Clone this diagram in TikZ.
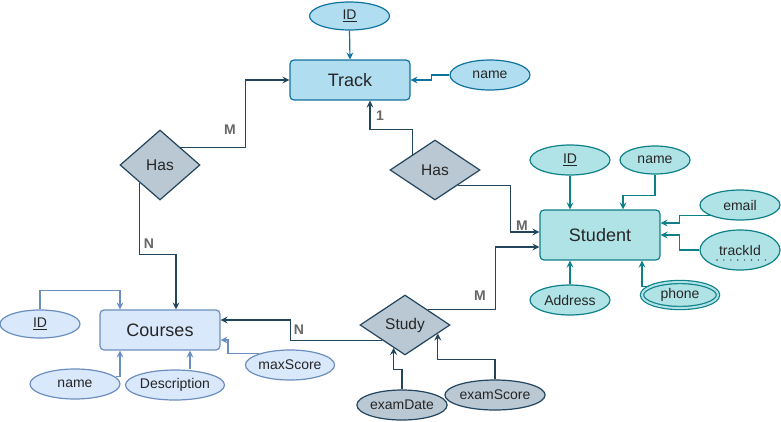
\documentclass[tikz,border=0pt]{standalone}
\usepackage{fontspec}
\setmainfont{Liberation Sans}
\usetikzlibrary{shapes.geometric,arrows.meta,calc}

\definecolor{trackfill}{HTML}{B1DDF0}
\definecolor{trackline}{HTML}{10739E}
\definecolor{stufill}{HTML}{B0E3E6}
\definecolor{stuline}{HTML}{0E8088}
\definecolor{crsfill}{HTML}{DAE8FC}
\definecolor{crsline}{HTML}{6C8EBF}
\definecolor{relfill}{HTML}{BAC8D3}
\definecolor{relline}{HTML}{23445D}
\definecolor{cardtext}{HTML}{666666}

\begin{document}
\begin{tikzpicture}[x=1pt,y=-1pt]
\def\lw{1.2pt}; %line width of shapes and connectors
\def\entW{120pt}; %width of an entity box
\def\entH{40pt}; %height of an entity box
\def\attW{80pt}; %width of an attribute
\def\attH{30pt}; %height of an attribute

\tikzstyle{entity} = [rectangle, rounded corners=4pt, line width=\lw, minimum width=\entW, minimum height=\entH, text=black!85, font=\fontsize{18}{21}\selectfont]
\tikzstyle{attr} = [ellipse, line width=\lw, inner sep=0pt, minimum width=\attW, minimum height=\attH, text=black!85, font=\fontsize{14}{17}\selectfont]
\tikzstyle{rel} = [diamond, draw=relline, fill=relfill, line width=\lw, inner sep=0pt, text=black!85, font=\fontsize{15.5}{18}\selectfont]
\tikzstyle{card} = [text=cardtext, inner sep=0pt, font=\bfseries\fontsize{14}{17}\selectfont]
\tikzstyle{link} = [line width=\lw, -{Stealth[length=7pt,width=7pt,inset=2.5pt]}]

\useasboundingbox (0,0) rectangle (781,421);

% entities
\node[entity, draw=trackline, fill=trackfill] (track) at (350,80) {Track};
\node[entity, draw=stuline, fill=stufill, minimum height=50pt] (student) at (600,235) {Student};
\node[entity, draw=crsline, fill=crsfill] (courses) at (160,330) {Courses};

% relations
\node[rel, minimum width=80pt, minimum height=70pt] (has1) at (160,165) {Has};
\node[rel, minimum width=90pt, minimum height=60pt] (has2) at (435,170) {Has};
\node[rel, minimum width=90pt, minimum height=60pt] (study) at (405,325) {Study};

% attributes of Track
\node[attr, draw=trackline, fill=trackfill, minimum height=28pt] (trackid) at (349.5,16) {\underline{ID}};
\node[attr, draw=trackline, fill=trackfill] (trackname) at (490,75) {name};

% attributes of Student
\node[attr, draw=stuline, fill=stufill] (stuid) at (570,160) {\underline{ID}};
\node[attr, draw=stuline, fill=stufill, minimum width=70pt, minimum height=28pt] (stuname) at (655,160) {name};
\node[attr, draw=stuline, fill=stufill] (stuemail) at (740,205) {email};
\node[attr, draw=stuline, fill=stufill, minimum height=40pt] (stutrack) at (740,250) {trackId};
\node[attr, draw=stuline, fill=stufill] (stuaddr) at (570,300) {Address};
\node[attr, draw=stuline, double=stufill, double distance=2pt, fill=stufill, minimum width=76pt, minimum height=26pt] (stuphone) at (680,295) {phone};

% attributes of Courses
\node[attr, draw=crsline, fill=crsfill, minimum height=28pt] (crsid) at (40,324) {\underline{ID}};
\node[attr, draw=crsline, fill=crsfill, minimum width=90pt] (crsname) at (75,384) {name};
\node[attr, draw=crsline, fill=crsfill, minimum width=90pt] (crsdesc) at (175,385) {Description};
\node[attr, draw=crsline, fill=crsfill] (crsmax) at (290,365) {maxScore};

% attributes of Study
\node[attr, draw=relline, fill=relfill, minimum width=85pt] (examdate) at (402,405) {examDate};
\node[attr, draw=relline, fill=relfill, minimum width=90pt] (examscore) at (495,395) {examScore};

% dotted underline of the derived key
\draw[black!70, line width=1.6pt, dash pattern=on 0pt off 6.9pt, line cap=round] ([xshift=-23pt,yshift=-10pt]stutrack.center) -- ([xshift=26pt,yshift=-10pt]stutrack.center);

% points on the border of Study
\coordinate (studyA) at ($(study.south)!0.25!(study.west)$);
\coordinate (studyB) at ($(study.south)!0.72!(study.east)$);

% attribute links
\draw[link, trackline] (trackid.south) -- (track.north);
\draw[link, trackline] (trackname.west) -- ++(-18,0) |- (track.east);

\draw[link, stuline] (stuid.south) -- ([xshift=-30pt]student.north);
\draw[link, stuline] (stuname.south) -- ++(0,21) -| ([xshift=23pt]student.north);
\draw[link, stuline] (stuemail.200) -- ++(-31,0) |- ([yshift=12pt]student.east);
\draw[link, stuline] (stutrack.west) -- ++(-20,0) |- (student.east);
\draw[link, stuline] (stuaddr.north) -- ([xshift=-30pt]student.south);
\draw[link, stuline] (stuphone.165) -| ([xshift=42pt]student.south);

\draw[link, crsline] (crsid.north) -- ++(0,-19) -| ([xshift=-40pt]courses.north);
\draw[link, crsline] (crsname.10) -| ([xshift=-40pt]courses.south);
\draw[link, crsline] ([xshift=15pt]crsdesc.north) -- ([xshift=30pt]courses.south);
\draw[link, crsline] (crsmax.160) -- ++(-31,0) |- ([yshift=-10pt]courses.east);

\draw[link, relline] (examdate.north) -- ++(0,-20) -| (studyA);
\draw[link, relline] (examscore.north) -- ++(0,-20) -| (studyB);

% relation links
\draw[link, relline] (has1.north east) -- ++(65,0) |- (track.west);
\draw[link, relline] (has1.south west) -- ++(0,72) -| ([xshift=16pt]courses.north);
\draw[link, relline] (has2.north west) -- ++(0,-25) -| ([xshift=20pt]track.south);
\draw[link, relline] (has2.south east) -- ++(52.5,0) |- ([yshift=3pt]student.west);
\draw[link, relline] (study.north east) -- ++(68,0) |- ([yshift=-12pt]student.west);
\draw[link, relline] (study.south west) -- ++(-92,0) |- ([yshift=10pt]courses.east);

% cardinalities
\node[card] (cardM1) at (230,130) {M};
\node[card] (cardN1) at (149,244) {N};
\node[card] (card1) at (380,116) {1};
\node[card] (cardM2) at (522,226) {M};
\node[card] (cardM3) at (480,296) {M};
\node[card] (cardN2) at (299,330) {N};

\end{tikzpicture}
\end{document}
